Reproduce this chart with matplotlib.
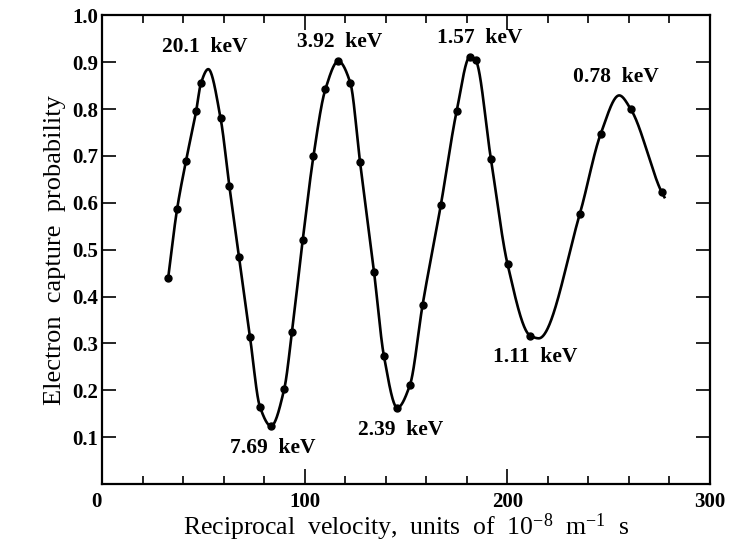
import numpy as np
import matplotlib
matplotlib.use("Agg")
import matplotlib.pyplot as plt

plt.rcParams["font.family"] = ["Liberation Serif", "DejaVu Serif"]
plt.rcParams["mathtext.fontset"] = "custom"
plt.rcParams["mathtext.rm"] = "Liberation Serif"
plt.rcParams["mathtext.it"] = "Liberation Serif"

# measured points (reciprocal velocity, capture probability)
recip_v = [32.6, 37.0, 41.4, 46.4, 48.8, 58.5, 62.8, 67.6, 73.0, 77.9,
           83.4, 89.9, 93.7, 99.0, 104.3, 110.2, 116.6, 122.5, 127.3, 134.2,
           139.1, 145.7, 151.9, 158.2, 167.2, 175.0, 181.5, 184.3, 191.9, 200.1,
           211.2, 235.8, 246.0, 261.0, 276.1]
prob = [0.439, 0.586, 0.689, 0.795, 0.855, 0.780, 0.636, 0.484, 0.314, 0.165,
        0.124, 0.203, 0.324, 0.520, 0.699, 0.842, 0.902, 0.856, 0.687, 0.453,
        0.273, 0.163, 0.211, 0.383, 0.596, 0.796, 0.911, 0.904, 0.693, 0.469,
        0.317, 0.577, 0.746, 0.799, 0.623]

# turning points of the drawn curve where no marker sits
apex_x = [52.4, 215.5, 255.2, 277.5]
apex_y = [0.885, 0.311, 0.829, 0.612]

# energy labels at the extrema
energy_text = ["20.1  keV", "3.92  keV", "1.57  keV", "0.78  keV",
               "7.69  keV", "2.39  keV", "1.11  keV"]
energy_x = [50.8, 117.4, 186.5, 253.6, 84.4, 147.5, 213.6]
energy_y = [0.932, 0.942, 0.951, 0.868, 0.077, 0.115, 0.271]


def pchip(x, y, xs):
    # monotone cubic (Fritsch-Carlson)
    x = np.asarray(x, float)
    y = np.asarray(y, float)
    h = np.diff(x)
    delta = np.diff(y) / h
    n = len(x)
    d = np.zeros(n)
    for k in range(1, n - 1):
        if delta[k - 1] * delta[k] > 0:
            w1 = 2 * h[k] + h[k - 1]
            w2 = h[k] + 2 * h[k - 1]
            d[k] = (w1 + w2) / (w1 / delta[k - 1] + w2 / delta[k])
    d[0] = delta[0]
    d[-1] = delta[-1]
    idx = np.clip(np.searchsorted(x, xs) - 1, 0, n - 2)
    t = (xs - x[idx]) / h[idx]
    h00 = 2 * t**3 - 3 * t**2 + 1
    h10 = t**3 - 2 * t**2 + t
    h01 = -2 * t**3 + 3 * t**2
    h11 = t**3 - t**2
    return (h00 * y[idx] + h10 * h[idx] * d[idx]
            + h01 * y[idx + 1] + h11 * h[idx] * d[idx + 1])


knots = sorted(zip(recip_v + apex_x, prob + apex_y))
kx = [k[0] for k in knots]
ky = [k[1] for k in knots]
xs = np.linspace(kx[0], kx[-1], 2000)
ys = pchip(kx, ky, xs)

fig = plt.figure(figsize=(7.45, 5.44), dpi=100)
ax = fig.add_axes([0.137, 0.110, 0.816, 0.862])

ax.plot(xs, ys, color="black", lw=1.9)
ax.plot(recip_v, prob, "o", color="black", ms=5)

for t, tx, ty in zip(energy_text, energy_x, energy_y):
    ax.text(tx, ty, t, ha="center", va="center", fontsize=15.5, fontweight="bold")

ax.set_xlim(0, 300)
ax.set_ylim(0, 1.0)

ax.set_xticks([0, 100, 200, 300])
ax.set_xticklabels(["0", "100", "200", "300"])
ax.set_xticks(np.arange(20, 300, 20), minor=True)
ax.set_yticks(np.arange(0.1, 1.01, 0.1))
ax.set_yticklabels(["%.1f" % v for v in np.arange(0.1, 1.01, 0.1)])

ax.tick_params(axis="x", which="major", direction="in", length=11, width=1.2,
               top=True, labelsize=15, pad=6)
ax.tick_params(axis="x", which="minor", direction="in", length=6, width=1.2,
               top=True)
ax.tick_params(axis="y", which="major", direction="in", length=10, width=1.2,
               right=True, labelsize=15, pad=3)
for lab in ax.get_xticklabels() + ax.get_yticklabels():
    lab.set_fontweight("bold")
ax.get_xticklabels()[0].set_horizontalalignment("right")

for s in ax.spines.values():
    s.set_linewidth(1.6)

ax.set_xlabel(r"Reciprocal  velocity,  units  of  10$^{-8}$  m$^{-1}$  s",
              fontsize=18.5, labelpad=-1)
ax.set_ylabel("Electron  capture  probability", fontsize=19, labelpad=4)

fig.savefig("out.png", dpi=100)
